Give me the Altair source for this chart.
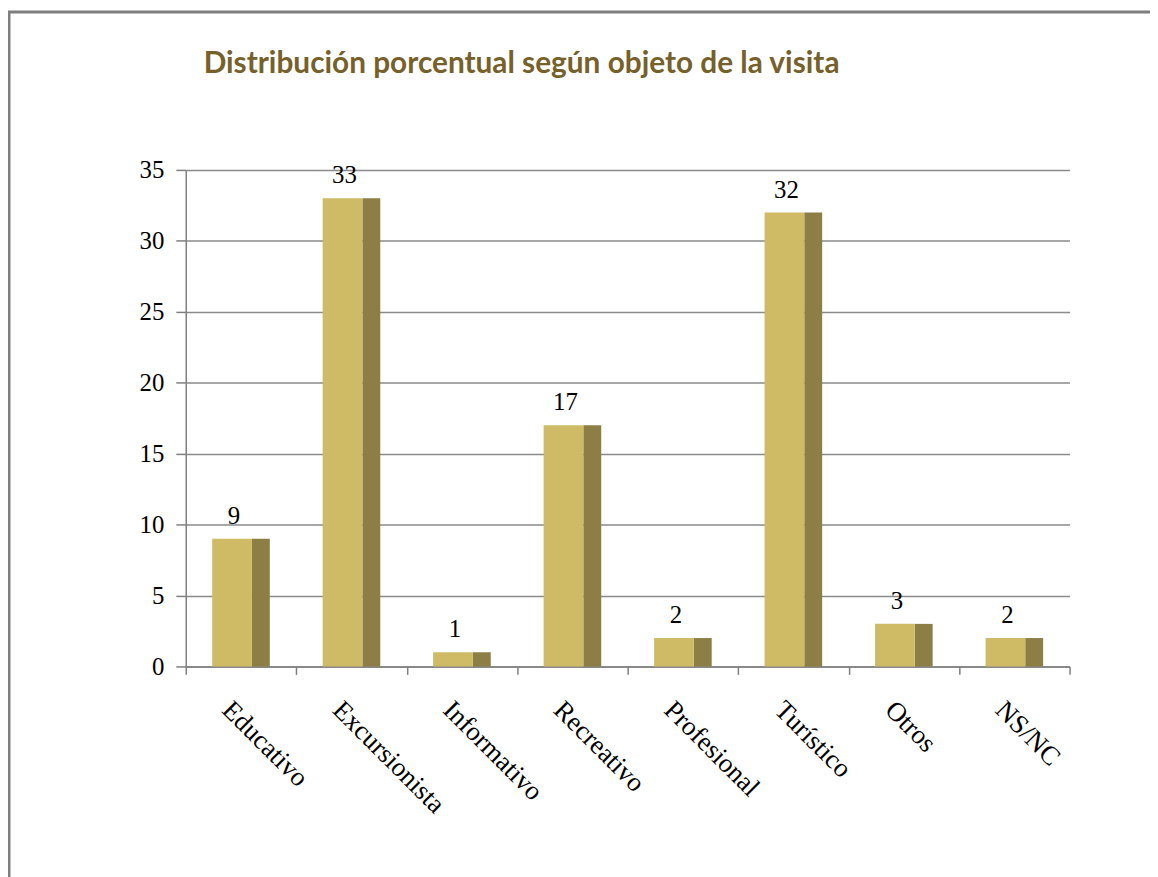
import altair as alt
import pandas as pd

categories = ["Educativo", "Excursionista", "Informativo", "Recreativo",
              "Profesional", "Turístico", "Otros", "NS/NC"]
values = [9, 33, 1, 17, 2, 32, 3, 2]
labels = ["9", "33", "1", "17", "2", "32", "3", "2"]
title_text = "Distribución porcentual según objeto de la visita"

df = pd.DataFrame({"cat": categories, "val": values, "lab": labels})

SERIF = "Liberation Serif"
x_enc = alt.X("cat:N", sort=categories, title=None,
              scale=alt.Scale(paddingInner=0, paddingOuter=0),
              axis=alt.Axis(labelAngle=45, labelAlign="left", labelBaseline="top",
                            labelFont=SERIF, labelFontSize=27, labelColor="#000000",
                            labelPadding=22, labelOffset=-6, tickBand="extent", tickSize=8,
                            tickColor="#7f7f7f", tickWidth=1.5,
                            domainColor="#7f7f7f", domainWidth=1.5, grid=False))
y_enc = alt.Y("val:Q", title=None,
              scale=alt.Scale(domain=[0, 35], nice=False),
              axis=alt.Axis(values=[0, 5, 10, 15, 20, 25, 30, 35],
                            labelFont=SERIF, labelFontSize=25, labelColor="#000000",
                            labelPadding=12, tickSize=10, tickColor="#7f7f7f",
                            tickWidth=1.5, domainColor="#7f7f7f", domainWidth=1.5,
                            grid=True, gridColor="#8a8a8a", gridWidth=1.5))

base = alt.Chart(df)

side = base.mark_bar(width=18, xOffset=20, color="#8c7e45").encode(x=x_enc, y=y_enc)
front = base.mark_bar(width=40, xOffset=-9, color="#cfbb65").encode(x=x_enc, y=y_enc)
text = base.mark_text(font=SERIF, fontSize=25, color="#000000", baseline="bottom",
                      dy=-10, xOffset=-7).encode(x=x_enc, y=y_enc, text="lab:N")

one = pd.DataFrame({"t": [title_text]})
border = alt.Chart(one).mark_rect(
    fill=None, stroke="#7f7f7f", strokeWidth=3).encode(
    x=alt.value(-178), y=alt.value(-159), x2=alt.value(1000), y2=alt.value(760))
title = alt.Chart(one).mark_text(
    font="Lato", fontSize=30, fontWeight="bold", color="#76612a",
    align="left", baseline="alphabetic").encode(
    x=alt.value(18), y=alt.value(-98), text="t:N")

chart = alt.layer(border, title, side, front, text).properties(
    width=890, height=500,
    autosize=alt.AutoSizeParams(type="none"),
    padding={"left": 179, "top": 160, "right": 81, "bottom": 209},
).configure(background="white").configure_view(stroke=None)

chart.save("out.html", embed_options={"renderer": "svg", "actions": False})
